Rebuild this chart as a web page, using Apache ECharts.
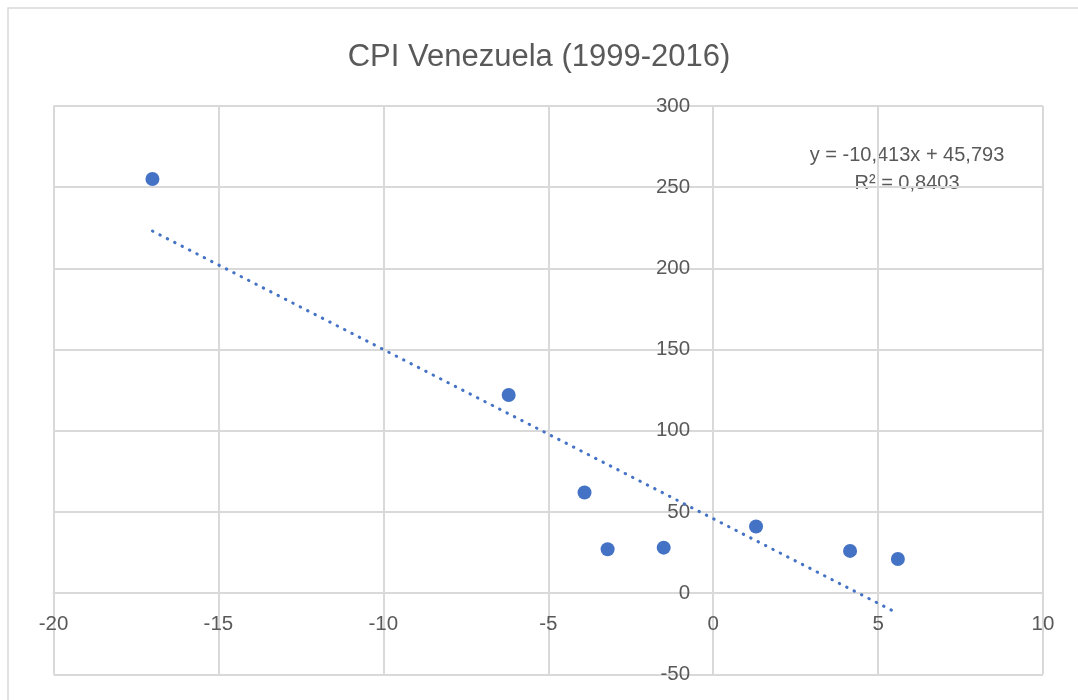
<!DOCTYPE html>
<html lang="es">
<head>
  <meta charset="UTF-8">
  <title>CPI Venezuela (1999-2016)</title>
  <script src="https://cdn.jsdelivr.net/npm/echarts@6.0.0/dist/echarts.min.js"></script>
  <style>
    html, body { margin: 0; padding: 0; background: #fff; }
    #chart { width: 1078px; height: 700px; }
  </style>
</head>
<body>
  <div id="chart"></div>
  <script>
    // puntos
    const growth = [-17.0, -6.2, -3.9, -3.2, -1.5, 1.3, 4.15, 5.6];
    const cpi = [255, 122, 62, 27, 28, 41, 26, 21];

    // linea de tendencia (extremos)
    const trendX = [-17.0, 5.6];
    const trendY = [223, -12.5];
    const trendText = 'y = -10,413x + 45,793\nR² = 0,8403';

    const xTicks = { min: -20, max: 10, interval: 5 };
    const yTicks = { min: -50, max: 300, interval: 50 };

    const gridColor = '#d9d9d9';
    const textColor = '#595959';
    const blue = '#4472C4';
    const font = '"Liberation Sans", Arial, sans-serif';
    const grid = { left: 53.5, right: 35, top: 106, bottom: 25.7 };

    const chart = echarts.init(document.getElementById('chart'));
    chart.setOption({
      animation: false,
      backgroundColor: '#fff',
      title: {
        text: 'CPI Venezuela (1999-2016)',
        left: 'center',
        top: 37,
        textStyle: { color: textColor, fontSize: 31, fontWeight: 'normal', fontFamily: font }
      },
      grid: Object.assign({ containLabel: false, outerBoundsMode: 'none' }, grid),
      xAxis: {
        type: 'value',
        position: 'bottom',
        min: xTicks.min, max: xTicks.max, interval: xTicks.interval,
        axisLine: { onZero: false, lineStyle: { color: gridColor, width: 2 } },
        axisTick: { show: false },
        axisLabel: { color: textColor, fontSize: 20.5, fontFamily: font, margin: 21, showMinLabel: true, showMaxLabel: true },
        splitLine: { show: true, lineStyle: { color: gridColor, width: 2 } }
      },
      yAxis: {
        type: 'value',
        position: 'left',
        min: yTicks.min, max: yTicks.max, interval: yTicks.interval,
        axisLine: { onZero: false, lineStyle: { color: gridColor, width: 2 } },
        axisTick: { show: false },
        axisLabel: { color: textColor, fontSize: 20.5, fontFamily: font, margin: 23 },
        splitLine: { show: true, lineStyle: { color: gridColor, width: 2 } }
      },
      graphic: [
        {
          type: 'rect',
          shape: { x: 8, y: 8, width: 1200, height: 1000 },
          style: { fill: 'none', stroke: gridColor, lineWidth: 1.5 },
          silent: true
        },
        {
          type: 'text',
          x: 907, y: 141,
          style: {
            text: trendText,
            textAlign: 'center',
            fill: textColor,
            fontSize: 20,
            fontFamily: font,
            lineHeight: 28
          }
        }
      ],
      series: [
        {
          type: 'line',
          data: trendX.map((x, i) => [x, trendY[i]]),
          symbol: 'none',
          lineStyle: { color: blue, width: 3, type: [0.5, 7.8], cap: 'round' },
          z: 2
        },
        {
          type: 'scatter',
          data: growth.map((x, i) => [x, cpi[i]]),
          symbol: 'circle',
          symbolSize: 14,
          itemStyle: { color: blue, opacity: 1 },
          z: 3
        }
      ]
    });

    // los ejes cruzan en el origen: se desplazan hasta el pixel del 0
    const origin = chart.convertToPixel({ gridIndex: 0 }, [0, 0]);
    const plotBottom = 700 - grid.bottom;
    chart.setOption({
      xAxis: { offset: origin[1] - plotBottom },
      yAxis: { offset: grid.left - origin[0] }
    });
  </script>
</body>
</html>
